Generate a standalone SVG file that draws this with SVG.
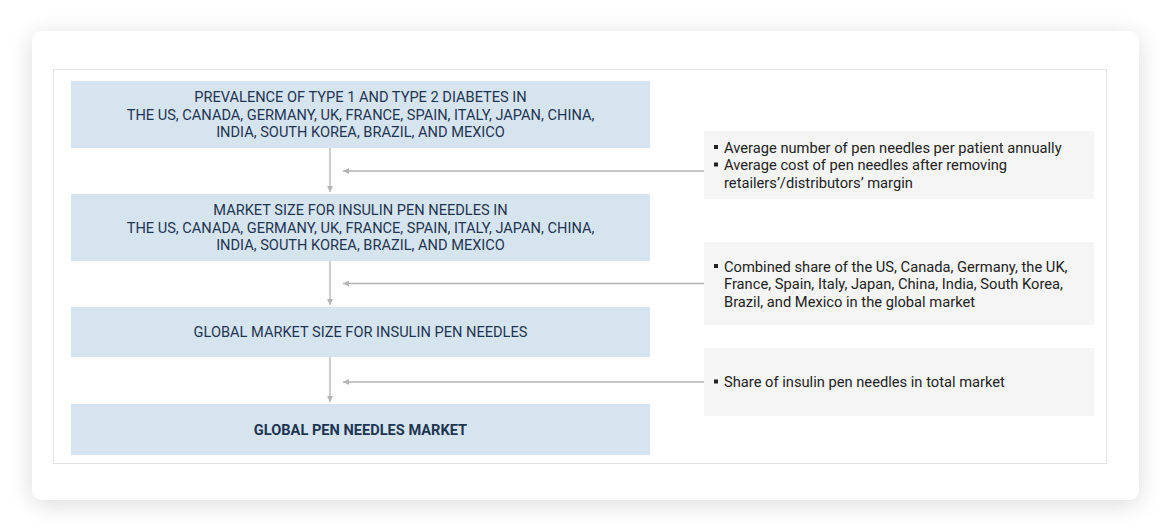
<svg xmlns="http://www.w3.org/2000/svg" width="1170" height="532" viewBox="0 0 1170 532">
  <defs>
    <filter id="shadow" x="-10%" y="-20%" width="120%" height="140%">
      <feGaussianBlur in="SourceAlpha" stdDeviation="12"/>
      <feOffset dx="0" dy="4" result="b"/>
      <feComponentTransfer><feFuncA type="linear" slope="0.15"/></feComponentTransfer>
      <feMerge><feMergeNode/><feMergeNode in="SourceGraphic"/></feMerge>
    </filter>
    <marker id="arrow" viewBox="0 0 10 10" refX="10" refY="5" markerWidth="6" markerHeight="6" markerUnits="userSpaceOnUse" orient="auto">
      <path d="M0,0 L10,5 L0,10 z" fill="#b3b3b3"/>
    </marker>
    <style>
      .blue { fill: #d6e4f0; }
      .gray { fill: #f5f5f5; }
      .bt { font-family: Roboto, "Liberation Sans", sans-serif; font-size: 14.6px; fill: #1e3552; text-anchor: middle; }
      .bold { font-weight: bold; }
      .gt { font-family: Roboto, "Liberation Sans", sans-serif; font-size: 14.7px; fill: #222222; }
      .bullet { fill: #222222; }
      .conn { stroke: #b3b3b3; stroke-width: 1.3; fill: none; marker-end: url(#arrow); }
    </style>
  </defs>
  <rect x="0" y="0" width="1170" height="532" fill="#ffffff"/>
  <rect x="32" y="31" width="1107" height="469" rx="10" ry="10" fill="#ffffff" filter="url(#shadow)"/>
  <rect x="53.5" y="69.5" width="1053" height="394" fill="#ffffff" stroke="#e2e2e2" stroke-width="1"/>

  <g id="node-prevalence">
    <rect class="blue" x="71" y="81" width="579" height="67"/>
    <text class="bt" x="360.5" y="102">PREVALENCE OF TYPE 1 AND TYPE 2 DIABETES IN</text>
    <text class="bt" x="360.5" y="119.5">THE US, CANADA, GERMANY, UK, FRANCE, SPAIN, ITALY, JAPAN, CHINA,</text>
    <text class="bt" x="360.5" y="137">INDIA, SOUTH KOREA, BRAZIL, AND MEXICO</text>
  </g>
  <g id="node-market-size">
    <rect class="blue" x="71" y="194" width="579" height="67"/>
    <text class="bt" x="360.5" y="215">MARKET SIZE FOR INSULIN PEN NEEDLES IN</text>
    <text class="bt" x="360.5" y="232.5">THE US, CANADA, GERMANY, UK, FRANCE, SPAIN, ITALY, JAPAN, CHINA,</text>
    <text class="bt" x="360.5" y="250">INDIA, SOUTH KOREA, BRAZIL, AND MEXICO</text>
  </g>
  <g id="node-global-insulin">
    <rect class="blue" x="71" y="307" width="579" height="50"/>
    <text class="bt" x="360.5" y="337">GLOBAL MARKET SIZE FOR INSULIN PEN NEEDLES</text>
  </g>
  <g id="node-global-pen">
    <rect class="blue" x="71" y="404" width="579" height="51"/>
    <text class="bt bold" x="360.5" y="435">GLOBAL PEN NEEDLES MARKET</text>
  </g>

  <g id="note-1">
    <rect class="gray" x="704" y="131" width="390" height="68"/>
    <rect class="bullet" x="714" y="145" width="4" height="4"/>
    <text class="gt" x="724" y="152.5">Average number of pen needles per patient annually</text>
    <rect class="bullet" x="714" y="162.5" width="4" height="4"/>
    <text class="gt" x="724" y="170">Average cost of pen needles after removing</text>
    <text class="gt" x="724" y="187.5">retailers’/distributors’ margin</text>
  </g>
  <g id="note-2">
    <rect class="gray" x="704" y="242" width="390" height="83"/>
    <rect class="bullet" x="714" y="264" width="4" height="4"/>
    <text class="gt" x="724" y="271.5">Combined share of the US, Canada, Germany, the UK,</text>
    <text class="gt" x="724" y="289">France, Spain, Italy, Japan, China, India, South Korea,</text>
    <text class="gt" x="724" y="306.5">Brazil, and Mexico in the global market</text>
  </g>
  <g id="note-3">
    <rect class="gray" x="704" y="348" width="390" height="68"/>
    <rect class="bullet" x="714" y="379.5" width="4" height="4"/>
    <text class="gt" x="724" y="387">Share of insulin pen needles in total market</text>
  </g>

  <g id="connectors">
    <line class="conn" x1="330" y1="148" x2="330" y2="192"/>
    <line class="conn" x1="330" y1="261" x2="330" y2="305"/>
    <line class="conn" x1="330" y1="357" x2="330" y2="402"/>
    <line class="conn" x1="704" y1="171" x2="343" y2="171"/>
    <line class="conn" x1="704" y1="283.5" x2="343" y2="283.5"/>
    <line class="conn" x1="704" y1="382" x2="343" y2="382"/>
  </g>
</svg>
